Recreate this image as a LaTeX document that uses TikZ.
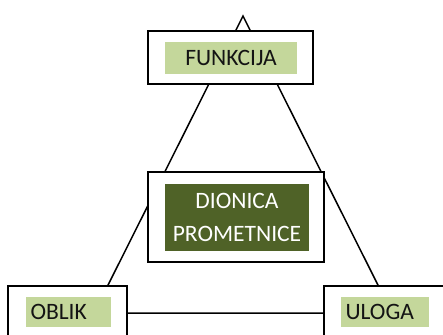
\documentclass[tikz,border=0pt]{standalone}
\usepackage{fontspec}
\setmainfont{Carlito}
\definecolor{lightolive}{RGB}{196,215,155}
\definecolor{darkolive}{RGB}{79,98,39}
\definecolor{inkblack}{RGB}{20,20,20}

\begin{document}
\begin{tikzpicture}[x=1pt,y=-1pt,
    frame/.style={
        rectangle,
        draw=black,
        line width=2pt,
        fill=white,
        inner sep=0pt
    },
    chip/.style={
        rectangle,
        fill=lightolive,
        inner sep=0pt,
        text=inkblack,
        align=center,
        font=\fontsize{23.5}{33}\selectfont
    },
    leftchip/.style={chip, inner xsep=4.5pt, align=left},
    darkchip/.style={chip, fill=darkolive, text=white},
    edge/.style={line width=1.5pt, line join=miter}
]
    % Canvas
    \path[use as bounding box, clip] (0,0) rectangle (443,334);

    % Triangle behind the boxes
    \coordinate (apex) at (243,16);
    \coordinate (leftcorner) at (94,313);
    \coordinate (rightcorner) at (392,313);
    \draw[edge] (leftcorner) -- (apex) -- (rightcorner) -- cycle;

    % Boxes
    \node[frame, minimum width=165pt, minimum height=53pt] (funkcijabox) at (230.5,57.5) {};
    \node[chip, minimum width=132pt, minimum height=32pt] (funkcija) at (231,58) {FUNKCIJA};

    \node[frame, minimum width=176pt, minimum height=90pt] (dionicabox) at (236,217) {};
    \node[darkchip, minimum width=144pt, minimum height=67pt] (dionica) at (237,217.5) {DIONICA\\PROMETNICE};

    \node[frame, minimum width=119pt, minimum height=74pt] (oblikbox) at (67.5,323) {};
    \node[leftchip, text width=76pt, minimum height=30pt] (oblik) at (68.5,312) {OBLIK};

    \node[frame, minimum width=136pt, minimum height=74pt] (ulogabox) at (392,323) {};
    \node[leftchip, text width=79pt, minimum height=30pt] (uloga) at (385,312) {ULOGA};
\end{tikzpicture}
\end{document}
